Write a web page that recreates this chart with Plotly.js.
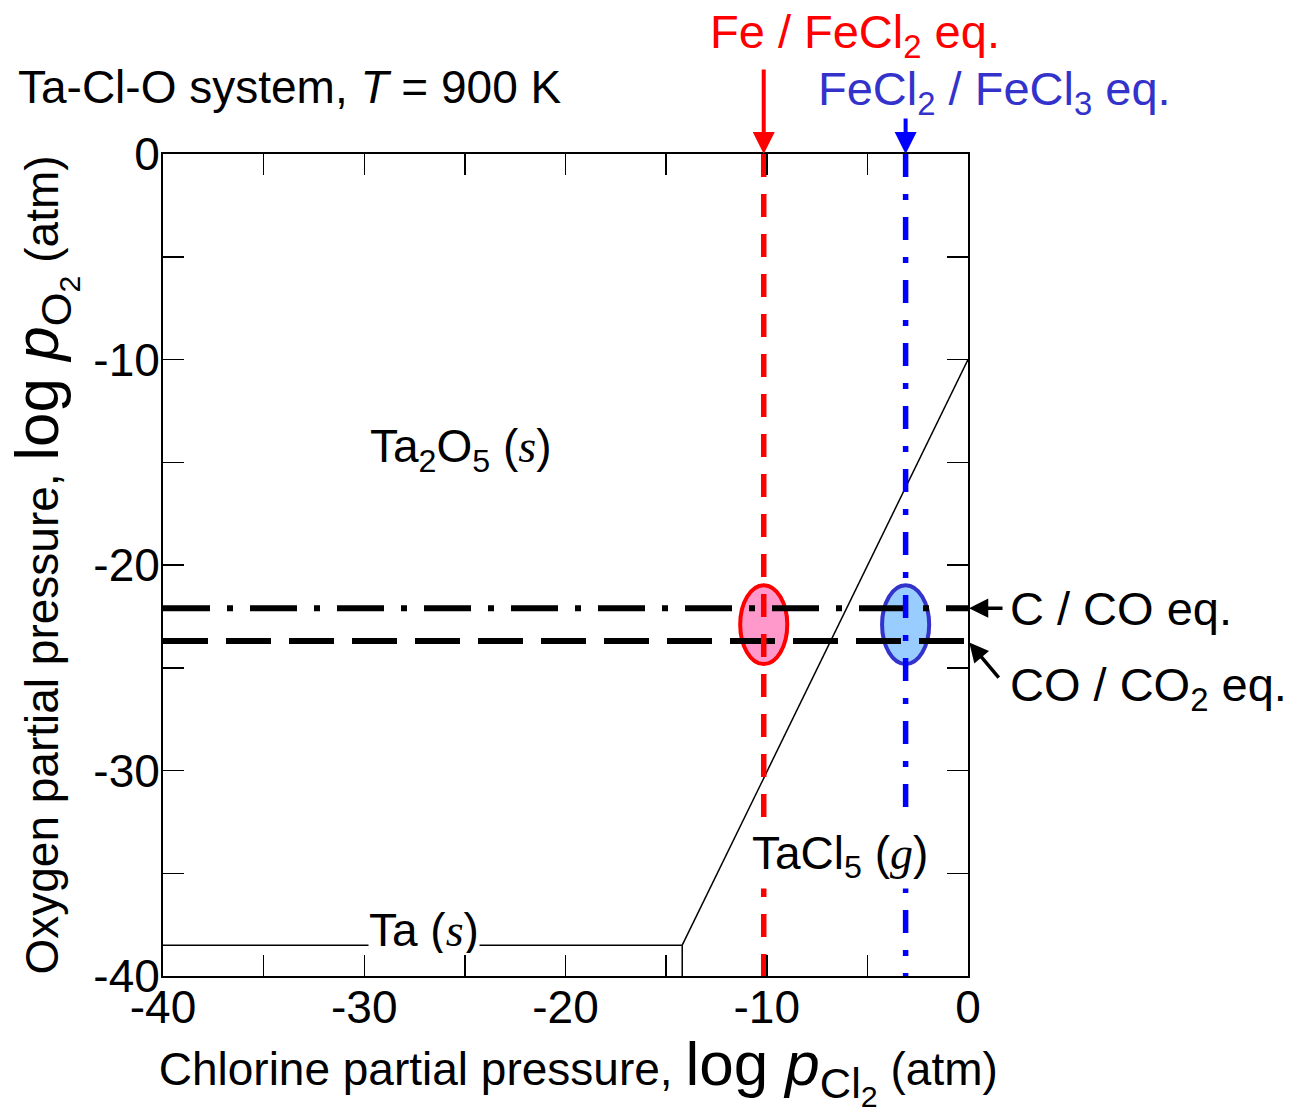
<!DOCTYPE html>
<html><head><meta charset="utf-8">
<script src="https://cdn.plot.ly/plotly-3.0.1.min.js"></script>
<style>body{margin:0;background:#fff}#chart{width:1306px;height:1113px}</style>
</head><body><div id="chart"></div>
<script>
// ---- data ----
const xTickVals = [-40, -30, -20, -10, 0];
const xTickText = ['-40', '-30', '-20', '-10', '0'];
const yTickVals = [0, -10, -20, -30, -40];
const yTickText = ['0', '-10', '-20', '-30', '-40'];
const minorStep = 5;

const taTaCl5X = [-40, -14.2];
const taTaCl5Y = [-38.5, -38.5];
const taLowerX = [-14.2, -14.2];
const taLowerY = [-38.5, -40];
const oxideChlorideX = [-14.2, 0];
const oxideChlorideY = [-38.5, -10];

const cCOeqX = [-40, 0];
const cCOeqY = [-22.1, -22.1];
const coCO2eqX = [-40, 0];
const coCO2eqY = [-23.7, -23.7];

const feFeCl2X = [-10.15, -10.15];
const feFeCl2Y = [0, -40];
const feCl2FeCl3X = [-3.1, -3.1];
const feCl2FeCl3Y = [0, -40];

const ellipseHalfW = 1.17;
const ellipseHalfH = 1.92;

// ---- styles ----
const FONT = 'Liberation Sans, Arial, sans-serif';
const SERIF = 'Liberation Serif, Times New Roman, serif';
const RED = '#ff0000', BLUE = '#0000ff', BLUE_T = '#3333cc';

const thin = {color: 'black', width: 1.5};
const traces = [
  {x: taTaCl5X, y: taTaCl5Y, mode: 'lines', line: thin},
  {x: taLowerX, y: taLowerY, mode: 'lines', line: thin},
  {x: oxideChlorideX, y: oxideChlorideY, mode: 'lines', line: thin},
  {x: cCOeqX, y: cCOeqY, mode: 'lines', line: {color: 'black', width: 6, dash: '47px,17px,6px,17px'}},
  {x: coCO2eqX, y: coCO2eqY, mode: 'lines', line: {color: 'black', width: 6, dash: '45px,18px'}},
  {x: feFeCl2X, y: feFeCl2Y, mode: 'lines', line: {color: RED, width: 5.5, dash: '23px,17px'}},
  {x: feCl2FeCl3X, y: feCl2FeCl3Y, mode: 'lines', line: {color: BLUE, width: 5.5, dash: '23px,17px,6px,17px'}}
];

const ecy = (cCOeqY[0] + coCO2eqY[0]) / 2;
const shapes = [
  {type: 'circle', xref: 'x', yref: 'y', layer: 'below',
   x0: feFeCl2X[0] - ellipseHalfW, x1: feFeCl2X[0] + ellipseHalfW,
   y0: ecy - ellipseHalfH, y1: ecy + ellipseHalfH,
   fillcolor: '#ff99cc', line: {color: RED, width: 4}},
  {type: 'circle', xref: 'x', yref: 'y', layer: 'below',
   x0: feCl2FeCl3X[0] - ellipseHalfW, x1: feCl2FeCl3X[0] + ellipseHalfW,
   y0: ecy - ellipseHalfH, y1: ecy + ellipseHalfH,
   fillcolor: '#99ccff', line: {color: BLUE_T, width: 4}}
];

const it = s => `<span style="font-family:${SERIF}"><i>${s}</i></span>`;
const annotations = [
  {x: -25.2, y: -14.4, xref: 'x', yref: 'y', showarrow: false,
   text: 'Ta<sub>2</sub>O<sub>5</sub> (' + it('s') + ')', font: {family: FONT, size: 46, color: 'black'}},
  {x: -6.36, y: -34.16, xref: 'x', yref: 'y', showarrow: false, bgcolor: 'white', height: 60, borderpad: 2,
   text: 'TaCl<sub>5</sub> (' + it('g') + ')', font: {family: FONT, size: 46, color: 'black'}},
  {x: -27.03, y: -37.76, xref: 'x', yref: 'y', showarrow: false, bgcolor: 'white', height: 46, borderpad: 0,
   text: 'Ta (' + it('s') + ')', font: {family: FONT, size: 46, color: 'black'}},
  // top labels
  {x: -5.6, y: 1.1448, xref: 'x', yref: 'paper', showarrow: false, xanchor: 'center', yanchor: 'middle',
   text: 'Fe / FeCl<sub>2</sub> eq.', font: {family: FONT, size: 47, color: RED}},
  {x: 1.0335, y: 1.0754, xref: 'paper', yref: 'paper', showarrow: false, xanchor: 'center', yanchor: 'middle',
   text: 'FeCl<sub>2</sub> / FeCl<sub>3</sub> eq.', font: {family: FONT, size: 47, color: BLUE_T}},
  // right labels
  {x: 1.0497, y: cCOeqY[0], xref: 'paper', yref: 'y', showarrow: false, xanchor: 'left', yanchor: 'middle',
   text: 'C / CO eq.', font: {family: FONT, size: 47, color: 'black'}},
  {x: 1.0497, y: -26.0, xref: 'paper', yref: 'y', showarrow: false, xanchor: 'left', yanchor: 'middle',
   text: 'CO / CO<sub>2</sub> eq.', font: {family: FONT, size: 47, color: 'black'}},
  // arrows
  {x: 0, y: cCOeqY[0], xref: 'x', yref: 'y', text: '', showarrow: true, axref: 'pixel', ayref: 'pixel',
   ax: 36, ay: 0, arrowhead: 2, arrowsize: 1.1, arrowwidth: 3.5, arrowcolor: 'black', standoff: 1},
  {x: 0, y: coCO2eqY[0], xref: 'x', yref: 'y', text: '', showarrow: true, axref: 'pixel', ayref: 'pixel',
   ax: 32, ay: 38, arrowhead: 2, arrowsize: 1.1, arrowwidth: 3.5, arrowcolor: 'black', standoff: 2},
  {x: feFeCl2X[0], y: 0, xref: 'x', yref: 'y', text: '', showarrow: true, axref: 'pixel', ayref: 'pixel',
   ax: 0, ay: -86, arrowhead: 2, arrowsize: 1.1, arrowwidth: 4, arrowcolor: RED, standoff: 0},
  {x: feCl2FeCl3X[0], y: 0, xref: 'x', yref: 'y', text: '', showarrow: true, axref: 'pixel', ayref: 'pixel',
   ax: 0, ay: -37, arrowhead: 2, arrowsize: 1.1, arrowwidth: 4, arrowcolor: BLUE, standoff: 0}
];

const axisCommon = {
  showline: true, linecolor: 'black', linewidth: 2, mirror: 'ticks',
  ticks: 'inside', ticklen: 21, tickwidth: 1.5, tickcolor: 'black',
  showgrid: false, zeroline: false, tickmode: 'array',
  minor: {dtick: minorStep, tick0: 0, ticks: 'inside', ticklen: 21, tickwidth: 1.5, tickcolor: 'black', showgrid: false},
  tickfont: {family: FONT, size: 46, color: 'black'}
};

const layout = {
  width: 1306, height: 1113,
  margin: {l: 163, r: 338, t: 154, b: 137},
  paper_bgcolor: 'white', plot_bgcolor: 'white',
  showlegend: false,
  title: {text: 'Ta-Cl-O system, <i>T</i> = 900 K', x: 18 / 1306, xanchor: 'left', xref: 'container',
          y: 1 - 87 / 1113, yanchor: 'middle', yref: 'container',
          font: {family: FONT, size: 46, color: 'black'}},
  xaxis: Object.assign({}, axisCommon, {
    range: [-40, 0], tickvals: xTickVals, ticktext: xTickText, ticklabelstandoff: -10,
    title: {text: '&nbsp;&nbsp;Chlorine partial pressure, <span style="font-size:62px">log <i>p</i><sub>Cl<sub>2</sub></sub></span> (atm)',
            font: {family: FONT, size: 46, color: 'black'}, standoff: 14}
  }),
  yaxis: Object.assign({}, axisCommon, {
    range: [-40, 0], tickvals: yTickVals, ticktext: yTickText, ticklabelstandoff: -8,
    title: {text: 'Oxygen partial pressure, <span style="font-size:62px">log <i>p</i><sub>O<sub>2</sub></sub></span> (atm)',
            font: {family: FONT, size: 46, color: 'black'}, standoff: 20}
  }),
  shapes: shapes,
  annotations: annotations
};

Plotly.newPlot('chart', traces, layout, {displayModeBar: false, staticPlot: true});
</script>
</body></html>
